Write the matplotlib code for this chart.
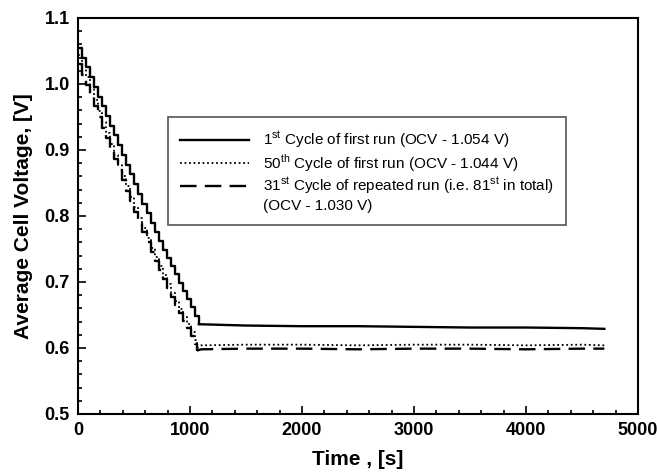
import matplotlib
matplotlib.use("Agg")
import matplotlib.pyplot as plt
from matplotlib.ticker import MultipleLocator

plt.rcParams["font.family"] = ["Liberation Sans", "DejaVu Sans"]
plt.rcParams["mathtext.fontset"] = "custom"
plt.rcParams["mathtext.rm"] = "Liberation Sans"

# staircase ramp (time in s, voltage in V)
t_ramp_1 = [0, 36, 72, 108, 144, 180, 216, 252, 288, 324, 360, 396, 432, 468, 504, 540,
            576, 612, 648, 684, 720, 756, 792, 828, 864, 900, 936, 972, 1008, 1044, 1080]
v_ramp_1 = [1.054, 1.040, 1.025, 1.010, 0.995, 0.981, 0.966, 0.951, 0.936, 0.922, 0.907,
            0.892, 0.877, 0.863, 0.848, 0.833, 0.818, 0.804, 0.789, 0.775, 0.762, 0.749,
            0.737, 0.724, 0.712, 0.699, 0.687, 0.674, 0.662, 0.649, 0.636]

t_ramp_50 = [0, 36, 72, 108, 144, 180, 216, 252, 288, 324, 360, 396, 432, 468, 504, 540,
             576, 612, 648, 684, 720, 756, 792, 828, 864, 900, 936, 972, 1008, 1044, 1062]
v_ramp_50 = [1.044, 1.027, 1.010, 0.993, 0.976, 0.959, 0.942, 0.925, 0.909, 0.893, 0.877,
             0.861, 0.845, 0.829, 0.813, 0.797, 0.782, 0.767, 0.752, 0.738, 0.724, 0.710,
             0.697, 0.684, 0.671, 0.659, 0.647, 0.636, 0.624, 0.612, 0.600]

t_ramp_81 = [0, 36, 72, 108, 144, 180, 216, 252, 288, 324, 360, 396, 432, 468, 504, 540,
             576, 612, 648, 684, 720, 756, 792, 828, 864, 900, 936, 972, 1008, 1044, 1062]
v_ramp_81 = [1.030, 1.014, 0.998, 0.982, 0.966, 0.950, 0.934, 0.918, 0.902, 0.886, 0.870,
             0.854, 0.838, 0.822, 0.806, 0.791, 0.776, 0.761, 0.746, 0.732, 0.718, 0.704,
             0.691, 0.678, 0.665, 0.653, 0.641, 0.630, 0.618, 0.606, 0.596]

# hold period after the ramp
t_hold_1 = [1080, 1500, 2000, 2500, 3000, 3500, 4000, 4500, 4700]
v_hold_1 = [0.636, 0.634, 0.633, 0.633, 0.632, 0.631, 0.631, 0.630, 0.629]
t_hold_50 = [1062, 1100, 1500, 2000, 2500, 3000, 3500, 4000, 4500, 4700]
v_hold_50 = [0.600, 0.604, 0.605, 0.605, 0.604, 0.605, 0.605, 0.604, 0.605, 0.604]
t_hold_81 = [1062, 1100, 1500, 2000, 2500, 3000, 3500, 4000, 4500, 4700]
v_hold_81 = [0.596, 0.598, 0.599, 0.599, 0.598, 0.599, 0.599, 0.598, 0.599, 0.599]

labels = [
    r"1$^{\rm st}$ Cycle of first run (OCV - 1.054 V)",
    r"50$^{\rm th}$ Cycle of first run (OCV - 1.044 V)",
    r"31$^{\rm st}$ Cycle of repeated run (i.e. 81$^{\rm st}$ in total)",
]
extra_label = "(OCV - 1.030 V)"

fig = plt.figure(figsize=(6.57, 4.76), dpi=100)
ax = fig.add_axes([0.1187, 0.1303, 0.8523, 0.8319])

styles = [
    dict(color="black", lw=1.7, ls="-"),
    dict(color="black", lw=1.3, ls=(0, (1, 1.5))),
    dict(color="black", lw=1.7, ls=(0, (7, 3.5))),
]
series = [(t_ramp_1, v_ramp_1, t_hold_1, v_hold_1),
          (t_ramp_50, v_ramp_50, t_hold_50, v_hold_50),
          (t_ramp_81, v_ramp_81, t_hold_81, v_hold_81)]

for (tr, vr, th, vh), st, lab in zip(series, styles, labels):
    ax.step(tr, vr, where="post", **st)
    ax.plot(th, vh, label=lab, **st)
ax.plot([], [], ls="none", label=extra_label)

ax.set_xlim(0, 5000)
ax.set_ylim(0.5, 1.1)
ax.xaxis.set_major_locator(MultipleLocator(1000))
ax.xaxis.set_minor_locator(MultipleLocator(200))
ax.yaxis.set_major_locator(MultipleLocator(0.1))
ax.yaxis.set_minor_locator(MultipleLocator(0.02))
ax.yaxis.set_major_formatter(plt.FormatStrFormatter("%.1f"))
ax.tick_params(which="both", direction="in", top=False, right=False, width=1.2)
ax.tick_params(which="major", length=6, labelsize=13, pad=6)
ax.tick_params(which="minor", length=3)
for lbl in ax.get_xticklabels() + ax.get_yticklabels():
    lbl.set_fontweight("bold")
for sp in ax.spines.values():
    sp.set_linewidth(1.5)

ax.set_xlabel("Time , [s]", fontsize=15, fontweight="bold", labelpad=8)
ax.set_ylabel("Average Cell Voltage, [V]", fontsize=15, fontweight="bold", labelpad=8)

leg = ax.legend(loc="upper left", bbox_to_anchor=(0.161, 0.75), fontsize=11,
                fancybox=False, framealpha=1, edgecolor="#555555",
                handlelength=4.5, handletextpad=0.9, labelspacing=0.12,
                borderpad=0.8, borderaxespad=0)
leg.get_frame().set_linewidth(1.2)

fig.savefig("out.png", dpi=100)
